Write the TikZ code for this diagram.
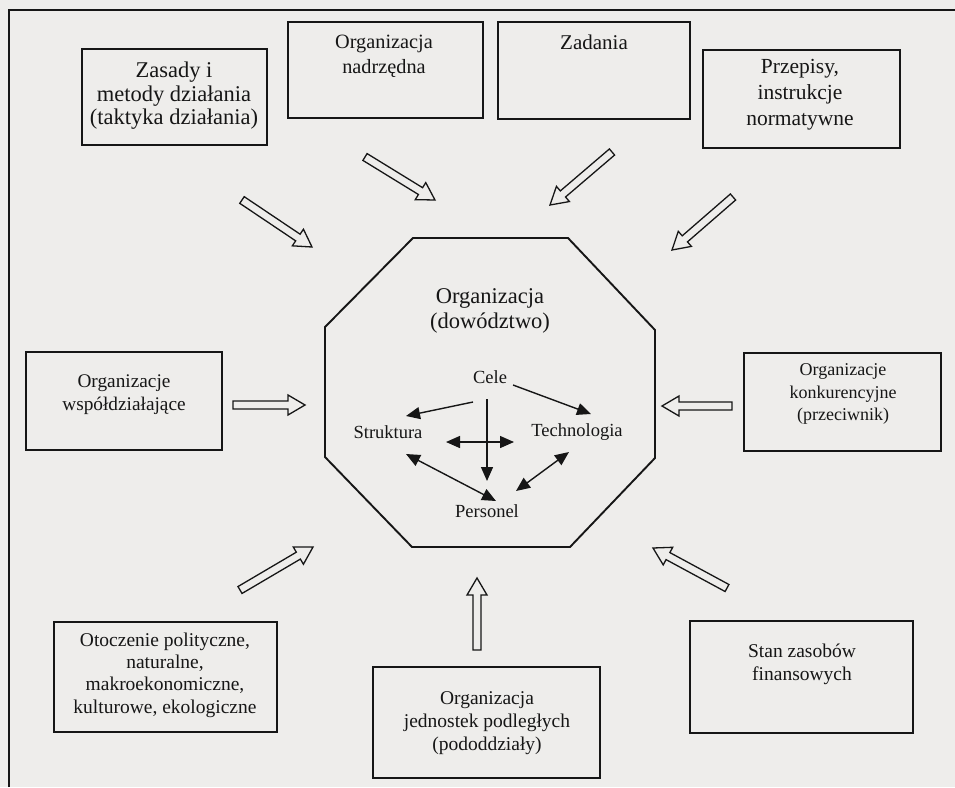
\documentclass[tikz,border=0pt]{standalone}
\usepackage{fontspec}
\setmainfont{Liberation Serif}
\usetikzlibrary{arrows.meta,calc}
\definecolor{paper}{RGB}{238,237,235}
\definecolor{ink}{RGB}{22,22,22}
\newcommand{\fsz}[2]{\fontsize{#1}{#2}\selectfont}
\begin{document}
\begin{tikzpicture}[x=1pt,y=-1pt,
  box/.style={draw=ink, line width=2.4pt, inner sep=0pt},
  lab/.style={text=ink, align=center, inner sep=0pt},
  inner/.style={draw=ink, line width=1.4pt},
  tip/.style={-{Triangle[length=14pt,width=12pt]}},
  tips/.style={{Triangle[length=14pt,width=12pt]}-{Triangle[length=14pt,width=12pt]}},
  hollow/.style={draw=ink, line width=1.3pt, line join=miter,
    to path={
      ($(\tikztostart)!4pt!90:(\tikztotarget)$)
      -- ($(\tikztotarget)!17pt!(\tikztostart)!4pt!90:(\tikztotarget)$)
      -- ($(\tikztotarget)!17pt!(\tikztostart)!10pt!90:(\tikztotarget)$)
      -- (\tikztotarget)
      -- ($(\tikztotarget)!17pt!(\tikztostart)!10pt!-90:(\tikztotarget)$)
      -- ($(\tikztotarget)!17pt!(\tikztostart)!4pt!-90:(\tikztotarget)$)
      -- ($(\tikztostart)!4pt!-90:(\tikztotarget)$)
      -- cycle}}
]
\useasboundingbox (0,0) rectangle (955,787);
\fill[paper] (0,0) rectangle (955,787);

% page frame (left and top rules)
\draw[ink, line width=2pt] (9,787) -- (9,10) -- (955,10);

% outer boxes
\node[box, minimum width=185pt, minimum height=96pt] (boxA) at (174.5,97) {};
\node[box, minimum width=195pt, minimum height=96pt] (boxB) at (385.5,70) {};
\node[box, minimum width=192pt, minimum height=97pt] (boxC) at (594,70.5) {};
\node[box, minimum width=197pt, minimum height=98pt] (boxD) at (801.5,99) {};
\node[box, minimum width=196pt, minimum height=98pt] (boxL) at (124,401) {};
\node[box, minimum width=197pt, minimum height=98pt] (boxR) at (842.5,402) {};
\node[box, minimum width=223pt, minimum height=110pt] (boxBL) at (165.5,677) {};
\node[box, minimum width=227pt, minimum height=111pt] (boxBM) at (486.5,722.5) {};
\node[box, minimum width=223pt, minimum height=112pt] (boxBR) at (801.5,677) {};

% box texts
\node[lab, font=\fsz{22.5}{23.5}] (labA) at (174,96) {Zasady i\\metody działania\\(taktyka działania)};
\node[lab, font=\fsz{20.3}{25}] (labB) at (384,56) {Organizacja\\nadrzędna};
\node[lab, font=\fsz{21}{24}] (labC) at (594,42) {Zadania};
\node[lab, font=\fsz{21.5}{26}] (labD) at (800,95) {Przepisy,\\instrukcje\\normatywne};
\node[lab, font=\fsz{19.3}{23}] (labL) at (124,395) {Organizacje\\współdziałające};
\node[lab, font=\fsz{18}{22.5}] (labR) at (843,394) {Organizacje\\konkurencyjne\\(przeciwnik)};
\node[lab, font=\fsz{19.5}{22.3}] (labBL) at (165,675) {Otoczenie polityczne,\\naturalne,\\makroekonomiczne,\\kulturowe, ekologiczne};
\node[lab, font=\fsz{19.5}{23}] (labBM) at (487,723) {Organizacja\\jednostek podległych\\(pododdziały)};
\node[lab, font=\fsz{19.5}{23}] (labBR) at (802,664) {Stan zasobów\\finansowych};

% central octagon
\draw[ink, line width=1.9pt, line join=miter]
  (413,238) -- (568,238) -- (655,330) -- (655,458) -- (570,547)
  -- (412,547) -- (325,457) -- (325,327) -- cycle;
\node[lab, font=\fsz{22.5}{25}] (org) at (490,311) {Organizacja\\(dowództwo)};
\node[lab, font=\fsz{18.5}{22}] (cele) at (490,377) {Cele};
\node[lab, font=\fsz{18.5}{22}] (struk) at (388,432) {Struktura};
\node[lab, font=\fsz{18.5}{22}] (tech) at (577,432) {Technologia};
\node[lab, font=\fsz{18.5}{22}] (pers) at (487,511) {Personel};

% relations inside the organisation
\coordinate (cs1) at (473,402); \coordinate (cs2) at (406,416);
\coordinate (ct1) at (513,385); \coordinate (ct2) at (591,414);
\coordinate (cv1) at (487,399); \coordinate (cv2) at (487,481);
\coordinate (hh1) at (446,442); \coordinate (hh2) at (514,442);
\coordinate (sp1) at (406,454); \coordinate (sp2) at (496,501);
\coordinate (tp1) at (569,452); \coordinate (tp2) at (516,491);
\draw[inner, tip] (cs1) -- (cs2);
\draw[inner, tip] (ct1) -- (ct2);
\draw[inner, tip] (cv1) -- (cv2);
\draw[inner, tips] (hh1) -- (hh2);
\draw[inner, tips] (sp1) -- (sp2);
\draw[inner, tips] (tp1) -- (tp2);

% influences from the environment
\coordinate (aA1) at (242,200);  \coordinate (aA2) at (312,247);
\coordinate (aB1) at (365,157);  \coordinate (aB2) at (435,200);
\coordinate (aC1) at (612,152);  \coordinate (aC2) at (550,205);
\coordinate (aD1) at (733,197);  \coordinate (aD2) at (672,250);
\coordinate (aL1) at (233,405);  \coordinate (aL2) at (305,405);
\coordinate (aR1) at (732,406);  \coordinate (aR2) at (662,406);
\coordinate (aBL1) at (240,590); \coordinate (aBL2) at (313,547);
\coordinate (aBM1) at (477,650); \coordinate (aBM2) at (477,578);
\coordinate (aBR1) at (727,588); \coordinate (aBR2) at (653,548);
\draw[hollow] (aA1) to (aA2);
\draw[hollow] (aB1) to (aB2);
\draw[hollow] (aC1) to (aC2);
\draw[hollow] (aD1) to (aD2);
\draw[hollow] (aL1) to (aL2);
\draw[hollow] (aR1) to (aR2);
\draw[hollow] (aBL1) to (aBL2);
\draw[hollow] (aBM1) to (aBM2);
\draw[hollow] (aBR1) to (aBR2);
\end{tikzpicture}
\end{document}
